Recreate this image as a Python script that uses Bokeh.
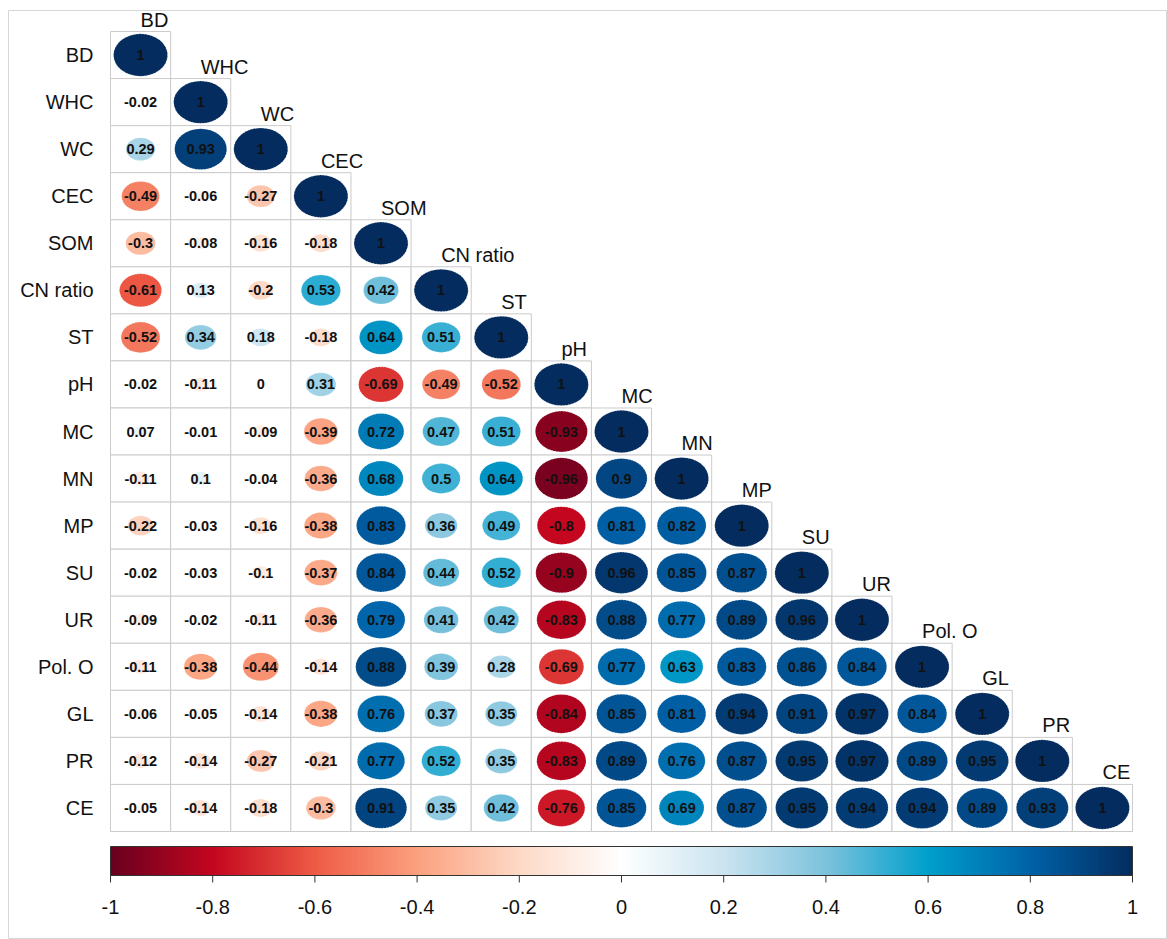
from bokeh.plotting import figure
from bokeh.models import Range1d, ColumnDataSource, LinearColorMapper
from bokeh.core.properties import value
from bokeh.embed import file_html
from bokeh.resources import INLINE
import numpy as np

# ---------------- data ----------------
labels = ["BD", "WHC", "WC", "CEC", "SOM", "CN ratio", "ST", "pH", "MC", "MN",
          "MP", "SU", "UR", "Pol. O", "GL", "PR", "CE"]

r_BD = [1]
r_WHC = [-0.02, 1]
r_WC = [0.29, 0.93, 1]
r_CEC = [-0.49, -0.06, -0.27, 1]
r_SOM = [-0.3, -0.08, -0.16, -0.18, 1]
r_CN = [-0.61, 0.13, -0.2, 0.53, 0.42, 1]
r_ST = [-0.52, 0.34, 0.18, -0.18, 0.64, 0.51, 1]
r_pH = [-0.02, -0.11, 0, 0.31, -0.69, -0.49, -0.52, 1]
r_MC = [0.07, -0.01, -0.09, -0.39, 0.72, 0.47, 0.51, -0.93, 1]
r_MN = [-0.11, 0.1, -0.04, -0.36, 0.68, 0.5, 0.64, -0.96, 0.9, 1]
r_MP = [-0.22, -0.03, -0.16, -0.38, 0.83, 0.36, 0.49, -0.8, 0.81, 0.82, 1]
r_SU = [-0.02, -0.03, -0.1, -0.37, 0.84, 0.44, 0.52, -0.9, 0.96, 0.85, 0.87, 1]
r_UR = [-0.09, -0.02, -0.11, -0.36, 0.79, 0.41, 0.42, -0.83, 0.88, 0.77, 0.89, 0.96, 1]
r_PolO = [-0.11, -0.38, -0.44, -0.14, 0.88, 0.39, 0.28, -0.69, 0.77, 0.63, 0.83, 0.86, 0.84, 1]
r_GL = [-0.06, -0.05, -0.14, -0.38, 0.76, 0.37, 0.35, -0.84, 0.85, 0.81, 0.94, 0.91, 0.97, 0.84, 1]
r_PR = [-0.12, -0.14, -0.27, -0.21, 0.77, 0.52, 0.35, -0.83, 0.89, 0.76, 0.87, 0.95, 0.97, 0.89, 0.95, 1]
r_CE = [-0.05, -0.14, -0.18, -0.3, 0.91, 0.35, 0.42, -0.76, 0.85, 0.69, 0.87, 0.95, 0.94, 0.94, 0.89, 0.93, 1]

rows = [r_BD, r_WHC, r_WC, r_CEC, r_SOM, r_CN, r_ST, r_pH, r_MC, r_MN,
        r_MP, r_SU, r_UR, r_PolO, r_GL, r_PR, r_CE]

cbar_ticks = [-1, -0.8, -0.6, -0.4, -0.2, 0, 0.2, 0.4, 0.6, 0.8, 1]
cbar_tick_labels = ["-1", "-0.8", "-0.6", "-0.4", "-0.2", "0", "0.2", "0.4", "0.6", "0.8", "1"]

# colour ramp (red - white - blue)
stop_vals = [-1.0, -0.8, -0.6, -0.4, -0.2, 0.0, 0.2, 0.4, 0.6, 0.8, 1.0]
stop_cols = ["#67001F", "#C4061F", "#EE5B45", "#FBA07E", "#FDD9C6", "#FFFFFF",
             "#CBE4F0", "#7CC2DC", "#00A0CC", "#0062A8", "#042C5E"]


def hex2rgb(h):
    h = h.lstrip("#")
    return [int(h[k:k + 2], 16) for k in (0, 2, 4)]


def cmap(v):
    v = max(-1.0, min(1.0, v))
    for k in range(len(stop_vals) - 1):
        a, b = stop_vals[k], stop_vals[k + 1]
        if a <= v <= b:
            t = (v - a) / (b - a)
            ca, cb = hex2rgb(stop_cols[k]), hex2rgb(stop_cols[k + 1])
            c = [round(ca[m] + (cb[m] - ca[m]) * t) for m in range(3)]
            return "#%02X%02X%02X" % tuple(c)
    return stop_cols[-1]


def fmt(v):
    return "%g" % v


n = len(labels)

# ---------------- figure / geometry ----------------
W, H = 1167, 939
cw = 1022.0 / n      # cell width (px)
ch = 800.0 / n       # cell height (px)
gx0, gy0 = 110.0, 31.0  # grid top-left (px)
fl, ft = 8, 10          # frame offset


def xd(px):
    return (px - gx0) / cw - 0.5


def yd(py):
    return (py - gy0) / ch - 0.5


p = figure(width=W, height=H, output_backend="svg", toolbar_location=None,
           x_range=Range1d(xd(fl), xd(W)), y_range=Range1d(yd(H), yd(ft)),
           x_axis_type=None, y_axis_type=None,
           min_border_left=fl, min_border_top=ft, min_border_right=0, min_border_bottom=0)
p.grid.visible = False
p.outline_line_color = "#D6D6D6"
p.outline_line_width = 1
p.background_fill_color = "white"
p.border_fill_color = "white"

# cells
cx, cy, rv, txt, col, ew, eh = [], [], [], [], [], [], []
for j, row in enumerate(rows):
    for i, v in enumerate(row):
        cx.append(i)
        cy.append(j)
        rv.append(v)
        txt.append(fmt(v))
        col.append(cmap(v))
        s = 0.9 * abs(v) ** 0.5
        ew.append(s)
        eh.append(s)

src = ColumnDataSource(dict(x=cx, y=cy, r=rv, t=txt, c=col, w=ew, h=eh))

p.rect(x="x", y="y", width=1, height=1, source=src, fill_color="white",
       line_color="#CBCBCB", line_width=1)
p.ellipse(x="x", y="y", width="w", height="h", source=src, fill_color="c",
          line_color="white", line_alpha=0.5, line_width=1, line_dash="1 2")
p.text(x="x", y="y", text="t", source=src, text_align="center", text_baseline="middle",
       text_font=value("Liberation Sans"), text_font_style="bold", text_font_size="14.5px",
       text_color="#111111")

# row labels
p.text(x=[xd(93)] * n, y=list(range(n)), text=labels, text_align="right",
       text_baseline="middle", text_font=value("Liberation Sans"), text_font_size="20px",
       text_color="#111111")
# column labels (on the diagonal)
p.text(x=list(range(n)), y=[k - 0.5 - 1.0 / ch for k in range(n)], text=labels,
       text_align="left", text_baseline="bottom", text_font=value("Liberation Sans"),
       text_font_size="20px", text_color="#111111")

# colour bar
NB = 512
grad = np.linspace(-1, 1, NB).reshape(1, NB)
palette = [cmap(-1 + 2 * (k + 0.5) / NB) for k in range(NB)]
mapper = LinearColorMapper(palette=palette, low=-1, high=1)
cb_top, cb_bot = yd(846), yd(875)
p.image(image=[grad], x=-0.5, y=cb_top, dw=float(n), dh=cb_bot - cb_top,
        color_mapper=mapper)
p.quad(left=[-0.5], right=[n - 0.5], top=[cb_top], bottom=[cb_bot], fill_color=None,
       line_color="#333333", line_width=1)
tx = [-0.5 + (t + 1) / 2 * n for t in cbar_ticks]
p.segment(x0=tx, x1=tx, y0=[cb_bot] * len(tx), y1=[yd(882)] * len(tx),
          line_color="#333333", line_width=1)
p.text(x=tx, y=[yd(906)] * len(tx), text=cbar_tick_labels, text_align="center",
       text_baseline="middle", text_font=value("Liberation Sans"), text_font_size="20px",
       text_color="#111111")

open("out.html", "w").write(file_html(p, INLINE))
